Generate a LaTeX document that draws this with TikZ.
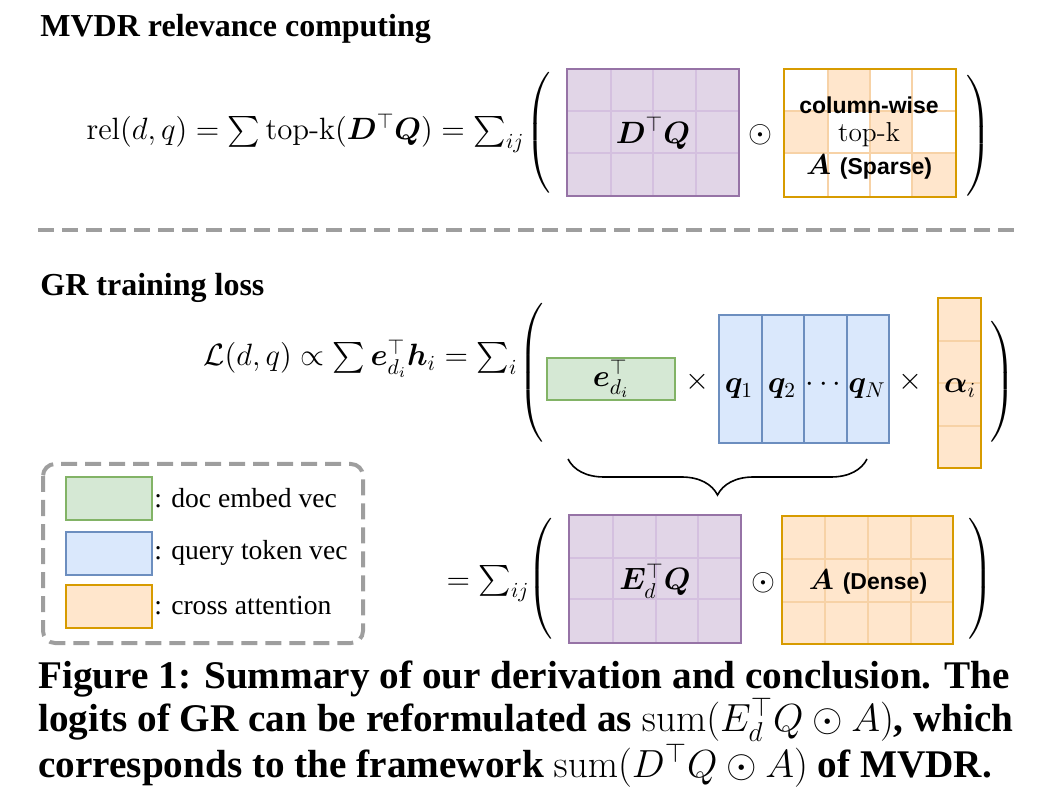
\documentclass[tikz,border=0pt]{standalone}
\usepackage[no-math]{fontspec}
\usepackage{amsmath}
\usepackage{bm}
\usepackage{graphicx}
\newfontfamily\timesfont{Liberation Serif}
\newfontfamily\helvfont{Liberation Sans}
\usetikzlibrary{decorations.pathreplacing}

\definecolor{purplefill}{HTML}{E1D5E7}
\definecolor{purpleline}{HTML}{9673A6}
\definecolor{purplegrid}{HTML}{D4C0DF}
\definecolor{orangefill}{HTML}{FFE6CC}
\definecolor{orangeline}{HTML}{D79B00}
\definecolor{orangegrid}{HTML}{F7D2A6}
\definecolor{greenfill}{HTML}{D5E8D4}
\definecolor{greenline}{HTML}{82B366}
\definecolor{bluefill}{HTML}{DAE8FC}
\definecolor{blueline}{HTML}{6C8EBF}
\definecolor{sepgray}{HTML}{9E9E9E}

\newcommand\eqsize{\fontsize{14.4}{17}\selectfont}
\newcommand\tallleft[1]{$\left(\vrule height #1 depth #1 width 0pt\right.$}
\newcommand\tallright[1]{$\left.\vrule height #1 depth #1 width 0pt\right)$}
\newcommand\capmath[1]{\scalebox{0.945}{$#1$}}

\tikzset{
  every node/.style={inner sep=0pt},
  matframe/.style={line width=1pt},
  gridline/.style={line width=0.8pt},
  sepline/.style={draw=sepgray, line width=2pt, dash pattern=on 8pt off 4pt},
  heading/.style={anchor=base west, font=\timesfont\bfseries\fontsize{16}{19}\selectfont},
  eqtext/.style={font=\eqsize, scale=1.07},
  parenbig/.style={font=\fontsize{14}{16}\selectfont},
  legendtext/.style={anchor=west, font=\timesfont\fontsize{13.8}{16}\selectfont},
}

\begin{document}
\begin{tikzpicture}[x=0.5pt,y=-0.5pt]
  \useasboundingbox (0,0) rectangle (1042,795);

  % MVDR relevance computing
  \node[heading] (mvdrtitle) at (40,37) {MVDR relevance computing};
  \node[eqtext, anchor=base east] (releq) at (525,140)
    {$\mathrm{rel}(d,q)=\sum\text{top-k}(\bm{D}^{\top}\bm{Q})=\sum_{ij}$};
  \node[parenbig] (lparena) at (539,133) {\tallleft{27pt}};

  \fill[purplefill] (567,69) rectangle (739,196);
  \draw[purplegrid, gridline] (611,69) -- (611,196) (653,69) -- (653,196) (696,69) -- (696,196)
    (567,111) -- (739,111) (567,153) -- (739,153);
  \draw[purpleline, matframe] (567,69) rectangle (739,196);
  \node[eqtext] (dqlabel) at (653,133) {$\bm{D}^{\top}\bm{Q}$};

  \node[eqtext] (odota) at (760,135) {$\odot$};

  \fill[white] (784,69) rectangle (956,197);
  \fill[orangefill] (828,69) rectangle (870,111);
  \fill[orangefill] (784,111) rectangle (828,153);
  \fill[orangefill] (870,111) rectangle (912,153);
  \fill[orangefill] (912,153) rectangle (956,197);
  \draw[orangegrid, gridline] (828,69) -- (828,197) (870,69) -- (870,197) (912,69) -- (912,197)
    (784,111) -- (956,111) (784,153) -- (956,153);
  \draw[orangeline, matframe] (784,69) rectangle (956,197);
  \node[font=\helvfont\bfseries\fontsize{11.5}{14}\selectfont] (colwise) at (869,105) {column-wise};
  \node[font=\fontsize{13.7}{16}\selectfont] (topk) at (869,135) {top-k};
  \node[font=\fontsize{13.7}{16}\selectfont] (sparselabel) at (869,167)
    {$\bm{A}$ {\helvfont\bfseries\fontsize{11.5}{14}\selectfont (Sparse)}};

  \node[parenbig] (rparena) at (978,136) {\tallright{27pt}};

  \draw[sepline] (38,230) -- (1015,230);

  % GR training loss
  \node[heading] (grtitle) at (40,296) {GR training loss};
  \node[eqtext, anchor=base east] (losseq) at (518,366)
    {$\mathcal{L}(d,q)\propto\sum\bm{e}_{d_i}^{\top}\bm{h}_i=\sum_i$};
  \node[parenbig] (lparenb) at (532,373) {\tallleft{31pt}};

  \draw[greenline, fill=greenfill, matframe] (547,358) rectangle (675,400);
  \node[eqtext] (elabel) at (611,379) {$\bm{e}_{d_i}^{\top}$};
  \node[eqtext] (timesa) at (697,382) {$\times$};

  \draw[blueline, fill=bluefill, matframe] (719,315) rectangle (889,443);
  \draw[blueline, matframe] (762,315) -- (762,443) (804,315) -- (804,443) (847,315) -- (847,443);
  \node[eqtext] (qone) at (739,389) {$\bm{q}_1$};
  \node[eqtext] (qtwo) at (782,389) {$\bm{q}_2$};
  \node[eqtext] (qdots) at (826,385) {$\cdots$};
  \node[eqtext] (qn) at (867,389) {$\bm{q}_N$};
  \node[eqtext] (timesb) at (910,382) {$\times$};

  \fill[orangefill] (938,298) rectangle (981,468);
  \draw[orangegrid, gridline] (938,341) -- (981,341) (938,383) -- (981,383) (938,426) -- (981,426);
  \draw[orangeline, matframe] (938,298) rectangle (981,468);
  \node[eqtext] (alphalabel) at (960,388) {$\bm{\alpha}_i$};

  \node[parenbig] (rparenb) at (1002,382) {\tallright{27pt}};

  \coordinate (bracel) at (568,459);
  \coordinate (bracer) at (867,459);
  \draw[decorate, decoration={brace, mirror, amplitude=18pt}, line width=0.8pt] (bracel) -- (bracer);

  % dense version
  \node[eqtext, anchor=base east] (sumeq) at (530,589) {$=\sum_{ij}$};
  \node[parenbig] (lparenc) at (541,580) {\tallleft{28pt}};

  \fill[purplefill] (569,515) rectangle (741,643);
  \draw[purplegrid, gridline] (613,515) -- (613,643) (656,515) -- (656,643) (698,515) -- (698,643)
    (569,558) -- (741,558) (569,599) -- (741,599);
  \draw[purpleline, matframe] (569,515) rectangle (741,643);
  \node[eqtext] (edqlabel) at (655,581) {$\bm{E}_d^{\top}\bm{Q}$};

  \node[eqtext] (odotb) at (763,583) {$\odot$};

  \fill[orangefill] (782,516) rectangle (953,644);
  \draw[orangegrid, gridline] (825,516) -- (825,644) (868,516) -- (868,644) (911,516) -- (911,644)
    (782,559) -- (953,559) (782,602) -- (953,602);
  \draw[orangeline, matframe] (782,516) rectangle (953,644);
  \node[font=\fontsize{13.7}{16}\selectfont] (denselabel) at (868,582)
    {$\bm{A}$ {\helvfont\bfseries\fontsize{11.5}{14}\selectfont (Dense)}};

  \node[parenbig] (rparenc) at (980,580) {\tallright{28pt}};

  % legend
  \draw[sepline, rounded corners=6pt] (43,464) rectangle (363,643);
  \draw[greenline, fill=greenfill, matframe] (66,477) rectangle (152,520);
  \node[legendtext] (docvec) at (154,498) {: doc embed vec};
  \draw[blueline, fill=bluefill, matframe] (66,532) rectangle (152,575);
  \node[legendtext] (queryvec) at (154,553) {: query token vec};
  \draw[orangeline, fill=orangefill, matframe] (66,585) rectangle (152,628);
  \node[legendtext] (crossatt) at (154,606) {: cross attention};

  % caption
  \node[anchor=north west, align=left, font=\timesfont\bfseries\fontsize{19.6}{21.5}\selectfont] (caption) at (38,660)
    {Figure 1: Summary of our derivation and conclusion. The\\
     logits of GR can be reformulated as \capmath{\mathrm{sum}(E_d^{\top}Q\odot A)}, which\\
     corresponds to the framework \capmath{\mathrm{sum}(D^{\top}Q\odot A)} of MVDR.};
\end{tikzpicture}
\end{document}
